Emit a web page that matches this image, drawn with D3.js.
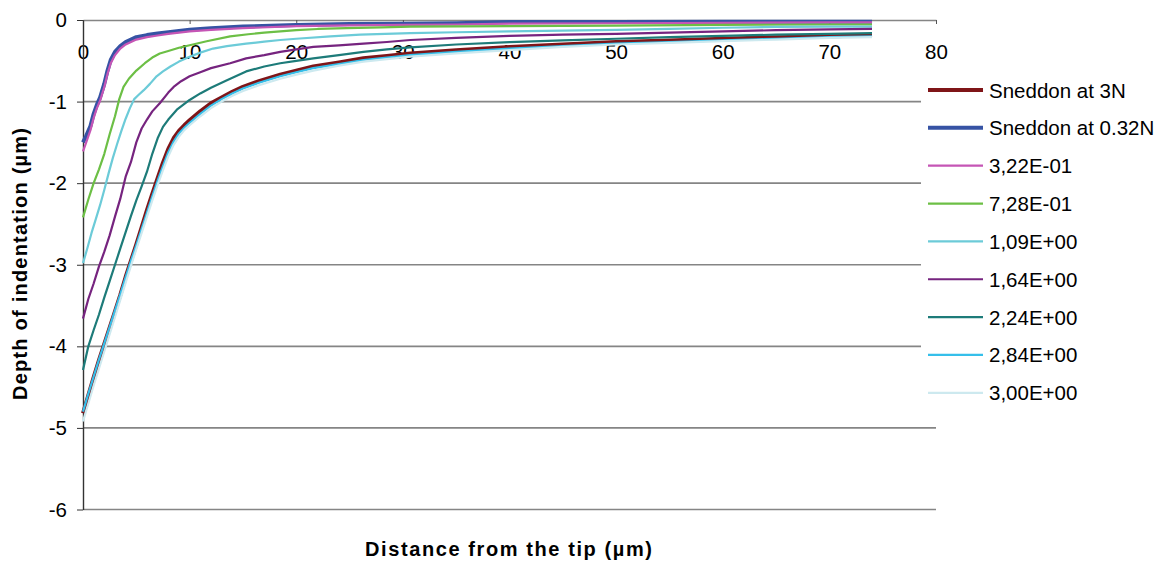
<!DOCTYPE html>
<html>
<head>
<meta charset="utf-8">
<script src="https://cdn.jsdelivr.net/npm/d3@7"></script>
<style>
  html, body { margin: 0; padding: 0; background: #fff; }
  svg { display: block; font-family: "Liberation Sans", Arial, sans-serif; }
</style>
</head>
<body>
<div id="chart"></div>
<script>
// ---------------- DATA ----------------
const seriesNames = ["Sneddon at 3N", "Sneddon at 0.32N", "3,22E-01", "7,28E-01", "1,09E+00", "1,64E+00", "2,24E+00", "2,84E+00", "3,00E+00"];

const xTicks = [0, 10, 20, 30, 40, 50, 60, 70, 80];
const yTicks = [-6, -5, -4, -3, -2, -1, 0];

const xSneddon3N = [0,0.5,1,1.5,2,2.5,3,3.5,4,4.5,5,5.5,6,6.5,7,7.5,8,8.5,9,9.5,10,11,12,13,14,15,16.5,18.5,20,21.6,24,26.3,28.5,30.7,35,40,45,50,55,60,65,70,74];
const ySneddon3N = [-4.82,-4.60,-4.38,-4.17,-3.97,-3.77,-3.57,-3.37,-3.15,-2.95,-2.75,-2.54,-2.33,-2.13,-1.94,-1.75,-1.58,-1.45,-1.36,-1.29,-1.23,-1.12,-1.02,-0.95,-0.88,-0.82,-0.75,-0.67,-0.62,-0.57,-0.52,-0.47,-0.44,-0.41,-0.37,-0.33,-0.30,-0.27,-0.25,-0.23,-0.21,-0.20,-0.19];

const xSneddon032 = [0,0.3,0.7,1,1.3,1.6,2,2.3,2.6,3,3.5,4,5,6,7,8,10,12,15,20,25,30,35,40,50,60,70,74];
const ySneddon032 = [-1.50,-1.42,-1.30,-1.15,-1.04,-0.95,-0.78,-0.62,-0.49,-0.39,-0.32,-0.27,-0.21,-0.185,-0.165,-0.15,-0.12,-0.10,-0.08,-0.06,-0.05,-0.045,-0.04,-0.025,-0.025,-0.02,-0.02,-0.02];

const x322 = [0,0.3,0.7,1,1.3,1.6,2,2.3,2.6,3,3.5,4,5,6,7,8,10,12,15,20,25,30,35,40,50,60,70,74];
const y322 = [-1.61,-1.50,-1.35,-1.20,-1.08,-0.99,-0.82,-0.66,-0.53,-0.43,-0.35,-0.30,-0.24,-0.21,-0.19,-0.17,-0.14,-0.12,-0.10,-0.075,-0.065,-0.06,-0.055,-0.045,-0.04,-0.035,-0.03,-0.03];

const x728 = [0,0.5,1,1.5,2,2.5,3,3.4,3.8,4.3,5,5.8,6.5,7.2,8,9,10,11.6,13.8,15.5,17,20,22,24.7,28,30.7,35,40,50,60,70,74];
const y728 = [-2.42,-2.20,-2.00,-1.83,-1.64,-1.40,-1.18,-0.97,-0.82,-0.72,-0.62,-0.53,-0.46,-0.41,-0.38,-0.34,-0.31,-0.26,-0.20,-0.175,-0.155,-0.125,-0.11,-0.10,-0.09,-0.08,-0.078,-0.075,-0.068,-0.06,-0.055,-0.055];

const x109 = [0,0.4,0.8,1.2,1.6,2,2.4,2.8,3.2,3.6,4,4.4,4.8,5.2,5.7,6.3,6.9,7.5,8.2,9,10,11,12.2,13.5,15.3,17,18.5,20,23.2,26,30.7,35,40,45,50,55,60,65,70,74];
const y109 = [-2.98,-2.80,-2.61,-2.44,-2.27,-2.08,-1.88,-1.69,-1.52,-1.36,-1.21,-1.08,-0.97,-0.92,-0.86,-0.78,-0.69,-0.63,-0.57,-0.51,-0.45,-0.40,-0.35,-0.32,-0.29,-0.265,-0.245,-0.23,-0.20,-0.18,-0.16,-0.15,-0.14,-0.13,-0.12,-0.11,-0.095,-0.085,-0.08,-0.08];

const x164 = [0,0.5,1,1.5,2,2.5,3,3.5,4,4.5,5,5.5,6,6.5,7.2,8,8.5,9.2,10,11,12,13.8,15.3,17,18.5,20,21.6,24,26.3,28.5,30.7,35,40,45,50,55,60,65,70,74];
const y164 = [-3.66,-3.42,-3.23,-3.02,-2.84,-2.64,-2.41,-2.19,-1.92,-1.74,-1.50,-1.33,-1.22,-1.12,-1.02,-0.89,-0.82,-0.75,-0.69,-0.64,-0.59,-0.53,-0.47,-0.43,-0.39,-0.36,-0.33,-0.31,-0.29,-0.27,-0.245,-0.22,-0.195,-0.18,-0.17,-0.155,-0.14,-0.125,-0.115,-0.11];

const x224 = [0,0.5,1,1.5,2,2.5,3,3.5,4,4.5,5,5.5,6,6.5,7,7.5,8,8.8,10,11,12,13.5,15.3,17,18.5,20,21.6,24,26.3,28.5,30.7,35,40,45,50,55,60,65,70,74];
const y224 = [-4.29,-4.00,-3.80,-3.61,-3.40,-3.20,-3.00,-2.80,-2.60,-2.40,-2.21,-2.04,-1.86,-1.64,-1.45,-1.31,-1.22,-1.10,-0.98,-0.90,-0.83,-0.74,-0.63,-0.57,-0.53,-0.50,-0.47,-0.43,-0.39,-0.36,-0.335,-0.30,-0.27,-0.25,-0.23,-0.21,-0.195,-0.18,-0.17,-0.16];

const x284 = [0,0.5,1,1.5,2,2.5,3,3.5,4,4.5,5,5.5,6,6.5,7,7.5,8,8.5,9,9.5,10,11,12,13,14,15,16.5,18.5,20,21.6,24,26.3,28.5,30.7,35,40,45,50,55,60,65,70,74];
const y284 = [-4.80,-4.58,-4.37,-4.16,-3.96,-3.76,-3.56,-3.36,-3.15,-2.95,-2.76,-2.56,-2.36,-2.16,-1.97,-1.79,-1.62,-1.49,-1.39,-1.32,-1.26,-1.15,-1.05,-0.97,-0.90,-0.84,-0.77,-0.69,-0.64,-0.59,-0.54,-0.49,-0.46,-0.43,-0.39,-0.35,-0.32,-0.29,-0.27,-0.25,-0.23,-0.21,-0.20];

const x300 = [0,0.5,1,1.5,2,2.5,3,3.5,4,4.5,5,5.5,6,6.5,7,7.5,8,8.5,9,9.5,10,11,12,13,14,15,16.5,18.5,20,21.6,24,26.3,28.5,30.7,35,40,45,50,55,60,65,70,74];
const y300 = [-4.92,-4.70,-4.48,-4.27,-4.06,-3.85,-3.64,-3.43,-3.22,-3.01,-2.81,-2.61,-2.41,-2.21,-2.02,-1.84,-1.67,-1.53,-1.43,-1.35,-1.29,-1.18,-1.08,-1.00,-0.93,-0.87,-0.80,-0.72,-0.67,-0.62,-0.56,-0.51,-0.48,-0.45,-0.41,-0.37,-0.33,-0.30,-0.28,-0.26,-0.24,-0.22,-0.21];

const seriesX = [xSneddon3N, xSneddon032, x322, x728, x109, x164, x224, x284, x300];
const seriesY = [ySneddon3N, ySneddon032, y322, y728, y109, y164, y224, y284, y300];

// ---------------- STYLE ----------------
const colors = ["#7f1518", "#3653a4", "#c555b5", "#6cbf45", "#6ccbd8", "#76247f", "#1d7b79", "#35bfea", "#cde9ef"];
const widths = [4, 4, 2.2, 2.2, 2.2, 2.2, 2.2, 2.2, 2.2];

const W = 1172, H = 562;
const svg = d3.select("#chart").append("svg").attr("width", W).attr("height", H);

const x = d3.scaleLinear().domain([0, 80]).range([83, 936]);
const y = d3.scaleLinear().domain([-6, 0]).range([509.5, 20]);

// gridlines
svg.append("g").selectAll("line").data(yTicks.filter(d => d !== 0)).join("line")
  .attr("x1", x(0)).attr("x2", x(80))
  .attr("y1", d => y(d)).attr("y2", d => y(d))
  .attr("stroke", "#858585").attr("stroke-width", 1.6);

// x axis at top (depth 0)
const xAxis = svg.append("g").attr("transform", `translate(0,${y(0)})`)
  .call(d3.axisBottom(x).tickValues(xTicks).tickSize(4).tickSizeOuter(0).tickPadding(20).tickFormat(d => String(d)));
xAxis.select(".domain").attr("stroke", "#858585").attr("stroke-width", 1.6);
xAxis.selectAll(".tick line").attr("stroke", "#555");
xAxis.selectAll("text").attr("font-size", "20.5px").attr("fill", "#000").attr("font-family", "Liberation Sans, Arial, sans-serif");

// y axis
const yAxis = svg.append("g").attr("transform", `translate(${x(0)},0)`)
  .call(d3.axisLeft(y).tickValues(yTicks).tickSize(6).tickSizeOuter(0).tickPadding(10).tickFormat(d => String(d)));
yAxis.select(".domain").attr("stroke", "#333").attr("stroke-width", 1.4);
yAxis.selectAll(".tick line").attr("stroke", "#333");
yAxis.selectAll("text").attr("font-size", "20.5px").attr("fill", "#000").attr("font-family", "Liberation Sans, Arial, sans-serif");

// series lines
const line = d3.line().x(d => x(d[0])).y(d => y(d[1]));
seriesNames.forEach((name, i) => {
  const pts = seriesX[i].map((v, k) => [v, seriesY[i][k]]);
  svg.append("path").datum(pts)
    .attr("d", line)
    .attr("fill", "none")
    .attr("stroke", colors[i])
    .attr("stroke-width", widths[i])
    .attr("stroke-linejoin", "round");
});

// legend (white box over plot area, as in the original)
svg.append("rect").attr("x", 921).attr("y", 66).attr("width", 251).attr("height", 346).attr("fill", "#fff");
const legend = svg.append("g");
seriesNames.forEach((name, i) => {
  const ly = 90 + i * 37.85;
  legend.append("line").attr("x1", 928).attr("x2", 983).attr("y1", ly).attr("y2", ly)
    .attr("stroke", colors[i]).attr("stroke-width", widths[i]);
  legend.append("text").attr("x", 989).attr("y", ly + 7.5)
    .attr("font-size", "20.5px").attr("fill", "#000").text(name);
});

// axis titles
svg.append("text").attr("x", 508.5).attr("y", 556)
  .attr("text-anchor", "middle").attr("font-weight", "bold").attr("font-size", "20px")
  .attr("textLength", 287).attr("lengthAdjust", "spacing")
  .text("Distance from the tip (µm)");
svg.append("text").attr("transform", "translate(27,264) rotate(-90)")
  .attr("text-anchor", "middle").attr("font-weight", "bold").attr("font-size", "20px")
  .attr("textLength", 272).attr("lengthAdjust", "spacing")
  .text("Depth of indentation (µm)");
</script>
</body>
</html>
